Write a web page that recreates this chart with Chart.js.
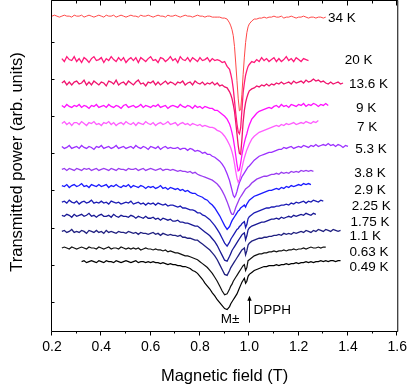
<!DOCTYPE html>
<html><head><meta charset="utf-8">
<script src="https://cdn.jsdelivr.net/npm/chart.js@4/dist/chart.umd.min.js"></script>
<style>html,body{margin:0;padding:0;background:#fff}</style>
</head><body>
<canvas id="c" width="415" height="388"></canvas>
<script>
// Magnetic field grid (T)
const field = [0.20,0.21,0.22,0.23,0.24,0.25,0.26,0.27,0.28,0.29,
0.30,0.31,0.32,0.33,0.34,0.35,0.36,0.37,0.38,0.39,
0.40,0.41,0.42,0.43,0.44,0.45,0.46,0.47,0.48,0.49,
0.50,0.51,0.52,0.53,0.54,0.55,0.56,0.57,0.58,0.59,
0.60,0.61,0.62,0.63,0.64,0.65,0.66,0.67,0.68,0.69,
0.70,0.71,0.72,0.73,0.74,0.75,0.76,0.77,0.78,0.79,
0.80,0.81,0.82,0.83,0.84,0.85,0.86,0.87,0.88,0.89,
0.90,0.91,0.92,0.925,0.93,0.935,0.94,0.945,0.95,0.955,0.96,0.965,0.97,0.975,0.98,0.985,0.99,0.995,1.00,
1.01,1.02,1.03,1.04,1.05,1.06,1.07,1.08,1.09,1.10,
1.11,1.12,1.13,1.14,1.15,1.16,1.17,1.18,1.19,1.20,
1.21,1.22,1.23,1.24,1.25,1.26,1.27,1.28,1.29,1.30,
1.31,1.32,1.33,1.34,1.35,1.36,1.37,1.38,1.39,1.40];

const temperatures = ['34 K','20 K','13.6 K','9 K','7 K','5.3 K','3.8 K','2.9 K','2.25 K','1.75 K','1.1 K','0.63 K','0.49 K'];
const startField = [0.20,0.24,0.24,0.24,0.24,0.24,0.24,0.24,0.24,0.24,0.24,0.24,0.32];
const offsets = [322.5,278,254,230,212.5,188,165.5,149,132,118.5,102,85,71];

const sig34K = [0,1,0,-1,0,1,0,0,-1,1, 0,0,1,-1,0,1,0,-1,0,1, 0,-1,1,0,0,1,-1,0,1,0, -1,0,1,0,0,-1,1,0,0,1, 0,-1,0,1,0,0,-1,1,0,0, 1,0,-1,0,1,0,0,-1,0,1, 0,0,-1,0,0,-1,-1,-1,-1,-2, -2,-3,-7,
-10,-14,-20,-31,-48,-66,-84,-97,-96,-80,-60,-42,-27,-17,-11,-8,
-5,-3,-3,-2,-2,-1,-2,-1,-1,0, -1,-1,0,-2,-1,-1,0,-1,-2,-1, -1,0,-1,-2,-1,-1,-2,-1,-1,-2,-1];
const sig20K = [1,-2,3,0,-1,3, -2,1,-3,2,0,-3,1,3,-1,0, 2,-3,1,-1,3,0,-2,2,-1,2, -3,0,2,-1,2,-3,2,0,-2,1, 3,-1,0,-3,2,1,-2,0,3,-1, 1,-3,3,0,-1,2,-2,2,0,-2, 2,-1,0,2,-2,1,-1,0,-1,-3, -2,-7,-10,
-15,-21,-30,-42,-55,-66,-74,-76,-70,-52,-34,-24,-16,-11,-7,-5,
-2,-3,0,-2,2,-1,1,-2,0,2, -2,1,-2,0,3,-1,1,-2,2,0, -2,1,0,-1];
const sig13K = [0,2,-2,1,-2,1, 2,-1,0,3,-2,1,-2,2,0,-2, 1,0,-3,2,1,-1,3,-2,0,1, -2,2,0,-2,1,3,-1,0,-3,1, 0,2,-2,1,-2,0,2,-1,1,0, -2,1,0,2,-2,0,1,-2,2,0, -1,1,-2,0,-1,1,-2,0,-3,-2, -4,-5,-9,
-12,-16,-22,-29,-40,-52,-64,-72,-73,-58,-40,-28,-20,-15,-11,-8,
-6,-5,-3,-4,-2,-3,-1,-3,-1,-2, 0,-1,1,-1,0,1,-1,2,0,1, 2,0,3,1,2,4,2,3,1, 2,0,-1,1,-1,0,1,-1,0];
const sig9K = [1,-1,2,0,-1,1, 0,2,-1,1,0,-2,1,0,2,-1, 0,1,-1,2,0,-1,1,0,-2,1, 2,-1,0,1,-1,0,2,-1,1,0, -1,1,0,2,-1,0,1,-2,0,1, 0,-1,2,0,-1,1,0,-2,1,-1, 0,-2,0,-1,-2,-2,-4,-4,-6,-8, -10,-13,-18,
-22,-27,-33,-41,-50,-59,-66,-65,-58,-50,-43,-37,-32,-28,-23,-19,
-13,-10,-7,-5,-4,-3,-2,-1,-2,0, 1,-1,2,0,1,-1,2,1,0,2, 1,3,0,2,1,3,2,0,2,1, 3,1];
const sig7K = [0,2,-1,1,-2,1, 1,-1,2,0,-2,1,0,2,-1,0, -2,1,0,2,-1,1,-2,0,1,-1, 2,0,-1,1,-2,1,0,-1,2,0, -1,1,-2,0,1,-1,0,2,-1,0, 1,-2,0,1,-1,0,-2,0,-1,-2, -1,-3,-2,-3,-4,-4,-5,-7,-8,-10, -13,-17,-22,
-25,-29,-34,-41,-49,-56,-60,-58,-52,-46,-40,-35,-31,-27,-24,-21,
-16,-13,-11,-9,-8,-7,-6,-5,-4,-3, -2,-3,-1,-2,0,-1,0,1,-1,0, 1,0,2,1,0,2,1,3];
const sig5K = [1,-1,0,2,-1,0, 1,-1,2,0,-1,1,0,-2,1,0, 2,-1,0,1,-1,0,2,-1,0,1, -1,0,1,-1,2,0,-1,1,0,-2, 1,0,-1,1,-2,0,1,-1,0,-1, -1,0,-2,-1,-1,-3,-1,-2,-4,-3, -4,-6,-5,-7,-7,-9,-10,-12,-14,-17, -21,-27,-34,
-39,-44,-49,-51,-49,-45,-40,-36,-33,-30,-28,-26,-24,-22,-20,-19,
-16,-13,-11,-9,-8,-7,-6,-5,-5,-4, -3,-2,-2,0,-1,0,1,-1,0,1, 0,2,1,0,2,1,3,1,2,3, 2,4,2,3,1,3,2,0,2,1];
const sig3K8 = [0,1,-1,1,0,-1, 1,0,-1,1,0,1,-1,0,1,-1, 0,1,0,-1,1,0,-1,1,0,0, -1,1,0,0,1,-1,0,1,-1,0, 1,0,-1,0,1,-1,0,0,-1,0, -1,-2,-1,-2,-2,-3,-2,-4,-3,-5, -6,-7,-8,-9,-10,-11,-13,-15,-18,-22, -27,-33,-40,
-44,-46,-46,-43,-39,-36,-33,-30,-28,-26,-24,-22,-20,-19,-18,-17,
-14,-12,-10,-9,-8,-7,-7,-6,-5,-5, -4,-5,-3,-4,-3,-4,-2,-3,-2,-3, -1,-2,-1,-2,-1,-2];
const sig2K9 = [0,-1,1,-2,0,1, -1,0,2,-1,0,-2,1,0,-1,1, -1,0,1,-2,0,-1,1,-1,-2,0, -1,1,-2,0,-1,-2,0,-1,-3,-1, -2,-1,-3,-2,0,-3,-2,-4,-2,-3, -4,-3,-5,-4,-6,-5,-7,-8,-8,-10, -11,-12,-14,-15,-18,-20,-23,-27,-31,-36, -41,-45,-42,
-39,-36,-34,-32,-30,-28,-26,-25,-23,-22,-21,-20,-22,-19,-17,-15,
-13,-11,-10,-9,-8,-7,-6,-5,-5,-4, -3,-4,-2,-3,-1,-2,0,-1,0,1, 0,2,1,2,1];
const sig2K25 = [0,1,-1,2,0,-1, 1,-2,0,1,-1,0,2,-1,0,-1, 1,-1,0,-2,1,0,-1,0,-2,-1, 0,-1,1,-2,-1,0,-2,-1,-3,-1, -2,-1,-3,-1,-2,-3,-2,-4,-3,-3, -4,-5,-4,-6,-6,-7,-8,-8,-9,-11, -11,-13,-14,-16,-18,-21,-24,-28,-32,-37, -42,-45,-41,
-38,-36,-34,-32,-30,-28,-27,-25,-24,-22,-21,-20,-26,-23,-17,-15,
-13,-11,-10,-9,-8,-7,-6,-6,-5,-5, -4,-4,-3,-3,-2,-3,-1,-2,0,-1, 0,1,-1,1,0,2,1,0,2,1];
const sig1K75 = [0,-1,1,0,-2,1, -1,0,1,-1,0,2,-1,0,-2,0, 1,-1,-1,0,-2,1,-1,-2,0,-1, -1,-2,0,-1,-3,-1,-2,-3,-1,-3, -3,-2,-4,-3,-5,-3,-4,-5,-4,-6, -6,-5,-7,-7,-8,-8,-9,-10,-11,-11, -13,-15,-17,-19,-21,-24,-27,-31,-36,-41, -46,-47,-42,
-39,-36,-34,-32,-30,-28,-26,-24,-22,-20,-19,-18,-25,-21,-15,-13,
-11,-10,-9,-8,-7,-7,-6,-5,-4,-4, -3,-4,-2,-3,-2,-1,-2,0,-1,0, 1,0,2,1,0,2,1];
const sig1K1 = [0,1,-1,0,2,-1, 0,-1,1,0,-2,1,0,-1,1,-1, 0,-2,1,-1,0,-1,-2,0,-1,-1, -2,0,-1,-2,-1,-3,-1,-2,-2,-3, -2,-1,-3,-2,-4,-2,-3,-4,-3,-4, -4,-5,-4,-6,-6,-7,-7,-8,-9,-9, -11,-13,-15,-17,-19,-22,-25,-29,-34,-39, -44,-45,-40,
-37,-35,-33,-31,-29,-27,-25,-23,-21,-19,-18,-17,-24,-20,-14,-12,
-10,-9,-8,-7,-7,-6,-6,-5,-5,-4, -4,-3,-4,-2,-3,-2,-3,-1,-2,-1, 0,-1,1,0,-1,1,0,2,1,0, 2,1,0,2,1,0,1];
const sig0K63 = [0,1,0,-1,1,0, -1,0,1,0,-1,1,0,0,-1,1, 0,-1,0,1,-1,0,0,-1,1,0, -1,0,-1,0,-1,0,-2,-1,0,-1, -1,-2,-1,-2,-2,-3,-2,-4,-3,-4, -5,-5,-6,-7,-8,-8,-9,-10,-11,-12, -14,-16,-18,-20,-23,-26,-30,-34,-39,-44, -48,-47,-42,
-39,-37,-34,-32,-30,-28,-26,-24,-22,-20,-18,-17,-23,-20,-13,-12,
-10,-8,-7,-6,-6,-5,-5,-4,-4,-3, -4,-3,-3,-2,-3,-2,-2,-1,-2,-1, -1,0,-1,0,1,0,0,1,0,1,1];
const sig0K49 = [0,1,-1,0,1,0,-1,1, 0,-1,1,0,0,-1,1,0,-1,0, 1,0,-1,0,1,-1,0,0,-1,0, -1,0,-1,-1,-2,-1,-2,-3,-2,-3, -3,-4,-4,-5,-5,-6,-7,-9,-10,-12, -15,-18,-22,-25,-28,-32,-35,-39,-42,-45, -48,-49,-46,
-43,-41,-39,-37,-35,-33,-30,-27,-24,-21,-19,-17,-22,-20,-15,-13,
-11,-9,-8,-7,-6,-5,-5,-4,-4,-4, -3,-4,-3,-3,-2,-3,-2,-2,-1,-2, -1,-1,0,-1,0,-1,0,0,1,0, 1,0,1,1,0,1,1];

const traces = [sig34K,sig20K,sig13K,sig9K,sig7K,sig5K,sig3K8,sig2K9,sig2K25,sig1K75,sig1K1,sig0K63,sig0K49];
const colors = ['#ff4848','#ff1a7a','#f0146e','#ff10ff','#ff5cff','#9b30ff','#9a3cf0','#1a1aff','#1c1cb4','#181894','#202080','#101010','#000000'];
const widths = [1,1.3,1.3,1.3,1.3,1.3,1.3,1.3,1.3,1.3,1.3,1.2,1.2];

// Label anchor points (field, level)
const labelField = [1.319,1.387,1.404,1.433,1.437,1.430,1.426,1.426,1.415,1.410,1.406,1.406,1.406];
const labelLevel = [320.7,277.7,253,228,208.3,185.7,161.7,144,127.3,111.7,97.3,80.7,65.7];
const xMajor = [0.2,0.4,0.6,0.8,1.0,1.2,1.4,1.6];
const xMinor = [0.3,0.5,0.7,0.9,1.1,1.3,1.5];
const yTickLevels = [30,68,106,144,182,220,258,296];

Chart.defaults.font.family = '"Liberation Sans", Arial, sans-serif';
Chart.defaults.color = '#000';

const datasets = traces.map((sig, k) => {
  const s = field.indexOf(startField[k]);
  return {
    label: temperatures[k],
    data: sig.slice(0, field.length - s).map((v, i) => ({x: field[s + i], y: offsets[k] + v})),
    borderColor: colors[k], borderWidth: widths[k], pointRadius: 0, tension: 0, fill: false
  };
});

const decor = {
  id: 'decor',
  afterDraw(chart) {
    const {ctx, chartArea: a, scales: {x, y}} = chart;
    ctx.save();
    ctx.strokeStyle = '#000'; ctx.lineWidth = 1;
    const L = a.left - 0.5, R = a.right + 0.5, T = a.top - 0.5, B = a.bottom + 0.5;
    ctx.beginPath();
    ctx.moveTo(L, T); ctx.lineTo(R, T); ctx.lineTo(R, B); ctx.lineTo(L, B); ctx.closePath();
    ctx.stroke();
    const seg = (x1, y1, x2, y2) => { ctx.beginPath(); ctx.moveTo(x1, y1); ctx.lineTo(x2, y2); ctx.stroke(); };
    xMajor.forEach(v => { const p = Math.round(x.getPixelForValue(v)) - 0.5; seg(p, B, p, B + 4); seg(p, T, p, T + 5); });
    xMinor.forEach(v => { const p = Math.round(x.getPixelForValue(v)) - 0.5; seg(p, B, p, B + 2); seg(p, T, p, T + 3); });
    yTickLevels.forEach(v => { const p = Math.round(y.getPixelForValue(v)) + 0.5; seg(L, p, L + 3, p); });

    ctx.fillStyle = '#000';
    ctx.font = '13.5px "Liberation Sans", Arial, sans-serif';
    ctx.textBaseline = 'middle'; ctx.textAlign = 'left';
    temperatures.forEach((t, k) => ctx.fillText(t, x.getPixelForValue(labelField[k]), y.getPixelForValue(labelLevel[k])));

    ctx.textAlign = 'center';
    ctx.fillText('M\u00b1', x.getPixelForValue(0.922), y.getPixelForValue(11.5));

    const ax = Math.round(x.getPixelForValue(0.997)) + 0.5;
    const yTip = y.getPixelForValue(36), yBase = y.getPixelForValue(8.5);
    seg(ax, yBase, ax, yTip + 4);
    ctx.beginPath(); ctx.moveTo(ax, yTip); ctx.lineTo(ax - 2.2, yTip + 5); ctx.lineTo(ax + 2.2, yTip + 5); ctx.closePath(); ctx.fill();
    ctx.textAlign = 'left';
    ctx.fillText('DPPH', x.getPixelForValue(1.017), y.getPixelForValue(21.5));

    ctx.save();
    ctx.translate(17.5, 162);
    ctx.rotate(-Math.PI / 2);
    ctx.textAlign = 'center';
    ctx.font = '16.5px "Liberation Sans", Arial, sans-serif';
    ctx.fillText('Transmitted power (arb. units)', 0, 0);
    ctx.restore();
    ctx.restore();
  }
};

new Chart(document.getElementById('c'), {
  type: 'line',
  data: {datasets},
  options: {
    responsive: false, animation: false, devicePixelRatio: 1,
    layout: {padding: {left: 52, right: 11, top: 1, bottom: 0}},
    plugins: {legend: {display: false}, tooltip: {enabled: false}},
    scales: {
      x: {type: 'linear', min: 0.2, max: 1.6,
        grid: {display: false, drawTicks: false}, border: {display: false},
        ticks: {stepSize: 0.2, padding: 8, font: {size: 14}, color: '#000', maxRotation: 0, autoSkip: false,
          callback: v => Number(v).toFixed(1)},
        title: {display: true, text: 'Magnetic field (T)', font: {size: 16.5}, color: '#000', padding: {top: 3, bottom: 1.4}}},
      y: {min: 0, max: 338, display: false}
    }
  },
  plugins: [decor]
});
</script>
</body></html>
